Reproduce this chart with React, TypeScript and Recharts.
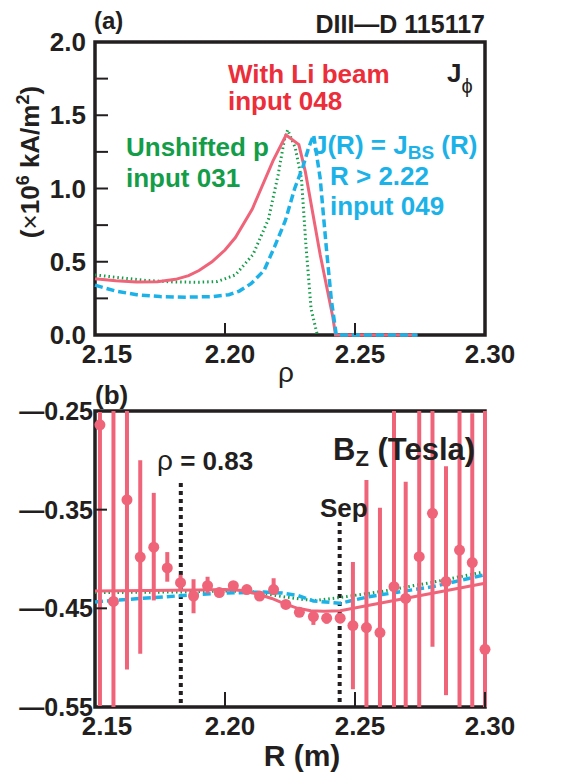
import React from 'react';
import {
  ComposedChart,
  Line,
  Scatter,
  XAxis,
  YAxis,
  ReferenceArea,
  ReferenceLine,
  ErrorBar,
} from 'recharts';

const FONT = '"Liberation Sans", Arial, Helvetica, sans-serif';
const INK = '#231f20';
const RED = '#ef6479';
const RED_TEXT = '#ec2d3a';
const GREEN = '#139d49';
const BLUE = '#1cb2e8';

// ---- panel (a): J_phi vs rho ----
const rhoTicks = [2.15, 2.2, 2.25, 2.3];
const jTicks = [0, 0.25, 0.5, 0.75, 1, 1.25, 1.5, 1.75, 2];

const liBeamRho = [2.15, 2.158, 2.166, 2.174, 2.181, 2.186, 2.19, 2.195, 2.2, 2.204, 2.2105, 2.2185, 2.2235, 2.2284, 2.2309, 2.2366, 2.2415, 2.2425, 2.274];
const liBeamJ = [0.384, 0.37, 0.362, 0.364, 0.38, 0.405, 0.44, 0.5, 0.58, 0.665, 0.86, 1.19, 1.365, 1.3, 1.115, 0.55, 0.12, 0, 0];

const unshiftedRho = [2.15, 2.16, 2.17, 2.18, 2.19, 2.197, 2.204, 2.2108, 2.2167, 2.2204, 2.2228, 2.2241, 2.227, 2.2294, 2.2311, 2.2331, 2.2355];
const unshiftedJ = [0.41, 0.39, 0.372, 0.362, 0.36, 0.365, 0.41, 0.55, 0.79, 1.09, 1.33, 1.4, 1.28, 1.07, 0.62, 0.18, 0];

const bootstrapRho = [2.15, 2.158, 2.166, 2.175, 2.185, 2.195, 2.2015, 2.2055, 2.21, 2.215, 2.219, 2.2232, 2.2268, 2.23, 2.2322, 2.2341, 2.2366, 2.239, 2.2409, 2.2428, 2.274];
const bootstrapJ = [0.34, 0.3, 0.275, 0.262, 0.258, 0.262, 0.275, 0.3, 0.35, 0.44, 0.6, 0.78, 1.0, 1.15, 1.28, 1.365, 1.07, 0.59, 0.24, 0, 0];

// ---- panel (b): Bz vs R ----
const rTicks = [2.15, 2.2, 2.25, 2.3];
const bzTicks = [-0.55, -0.45, -0.35, -0.25];

const bzR = [2.1519, 2.1571, 2.1623, 2.1674, 2.1726, 2.1778, 2.1829, 2.1879, 2.1933, 2.1978, 2.2032, 2.2084, 2.2133, 2.2187, 2.2234, 2.2286, 2.234, 2.2391, 2.2443, 2.2492, 2.2544, 2.2596, 2.265, 2.2695, 2.2747, 2.2798, 2.285, 2.2902, 2.2951, 2.3];
const bzMeas = [-0.264, -0.443, -0.34, -0.398, -0.388, -0.409, -0.424, -0.4375, -0.427, -0.434, -0.427, -0.431, -0.4375, -0.431, -0.446, -0.454, -0.4584, -0.46, -0.46, -0.4675, -0.4695, -0.4746, -0.428, -0.44, -0.3976, -0.3537, -0.4229, -0.391, -0.4036, -0.4915];
const bzHigh = [-0.25, -0.25, -0.25, -0.3, -0.333, -0.393, -0.416, -0.4205, -0.418, -0.43, -0.423, -0.427, -0.434, -0.4195, -0.442, -0.45, -0.4534, -0.4545, -0.455, -0.403, -0.32, -0.348, -0.25, -0.3216, -0.25, -0.25, -0.306, -0.25, -0.2524, -0.25];
const bzLow = [-0.55, -0.55, -0.512, -0.496, -0.442, -0.423, -0.431, -0.455, -0.4347, -0.438, -0.432, -0.435, -0.441, -0.4364, -0.45, -0.458, -0.4668, -0.4655, -0.465, -0.532, -0.55, -0.55, -0.55, -0.55, -0.55, -0.489, -0.538, -0.55, -0.55, -0.55];

const fitLiR = [2.15, 2.17, 2.19, 2.2, 2.207, 2.213, 2.218, 2.223, 2.228, 2.233, 2.238, 2.2443, 2.3];
const fitLiBz = [-0.4325, -0.432, -0.4315, -0.431, -0.432, -0.436, -0.44, -0.4455, -0.45, -0.4525, -0.453, -0.4525, -0.4246];

const fitUnshR = [2.15, 2.18, 2.2, 2.21, 2.215, 2.222, 2.23, 2.235, 2.2443, 2.26, 2.28, 2.3];
const fitUnshBz = [-0.434, -0.4335, -0.4325, -0.433, -0.435, -0.438, -0.441, -0.442, -0.439, -0.433, -0.4235, -0.4128];

const fitBsR = [2.15, 2.17, 2.19, 2.2, 2.215, 2.222, 2.228, 2.234, 2.2443, 2.2553, 2.28, 2.3];
const fitBsBz = [-0.4435, -0.4395, -0.436, -0.4345, -0.4335, -0.4345, -0.437, -0.4425, -0.4449, -0.4382, -0.428, -0.416];

// dotted markers: rho = 0.83 and separatrix
const rho083R = 2.183;
const rho083Top = -0.323;
const sepR = 2.2441;
const sepTop = -0.3625;

const zip = (xs: number[], ys: number[]) => xs.map((x, i) => ({ x, y: ys[i] }));

const liBeam = zip(liBeamRho, liBeamJ);
const unshifted = zip(unshiftedRho, unshiftedJ);
const bootstrap = zip(bootstrapRho, bootstrapJ);
const fitLi = zip(fitLiR, fitLiBz);
const fitUnsh = zip(fitUnshR, fitUnshBz);
const fitBs = zip(fitBsR, fitBsBz);
const bzPoints = bzR.map((x, i) => ({
  x,
  y: bzMeas[i],
  err: [bzMeas[i] - bzLow[i], bzHigh[i] - bzMeas[i]],
}));

const tickFont = { fontSize: 26, fontWeight: 700, fill: INK, fontFamily: FONT };

// inward tick + label; axis tickSize/tickMargin are 0 so (x, y) sits on the axis
const xTick = (len: number, gap: number) => (props: any) => {
  const { x, y, payload } = props;
  const dx = payload.value === 2.15 ? 12 : 5;
  return (
    <g>
      <line x1={x} x2={x} y1={y} y2={y - len} stroke={INK} strokeWidth={2} />
      <text x={x + dx} y={y + gap} dy="0.71em" textAnchor="middle" {...tickFont}>
        {Number(payload.value).toFixed(2)}
      </text>
    </g>
  );
};

const yTick = (len: number, gap: number, size: number, fmt: (v: number) => string) => (props: any) => {
  const { x, y, payload } = props;
  const label = fmt(payload.value);
  return (
    <g>
      <line x1={x} x2={x + len} y1={y} y2={y} stroke={INK} strokeWidth={2} />
      {label && (
        <text x={x - gap} y={y} dy="0.355em" textAnchor="end" {...tickFont} fontSize={size}>
          {label}
        </text>
      )}
    </g>
  );
};

const Dot = (p: any) => <circle cx={p.cx} cy={p.cy} r={5.5} fill={RED} />;

function PanelA() {
  return (
    <ComposedChart width={571} height={380} margin={{ top: 42, right: 86, bottom: 0, left: 0 }}>
      <XAxis
        type="number"
        dataKey="x"
        domain={[2.15, 2.3]}
        ticks={rhoTicks}
        interval={0}
        height={45}
        axisLine={false}
        tickLine={false}
        tickSize={0}
        tickMargin={0}
        tick={xTick(12, 10)}
      />
      <YAxis
        type="number"
        dataKey="y"
        domain={[0, 2]}
        ticks={jTicks}
        interval={0}
        width={95}
        axisLine={false}
        tickLine={false}
        tickSize={0}
        tickMargin={0}
        tick={yTick(13, 9, 26, (v) => (Math.round(v * 100) % 50 === 0 ? v.toFixed(1) : ''))}
      />
      <Line data={unshifted} dataKey="y" type="linear" stroke={GREEN} strokeWidth={3} strokeDasharray="1.5 3" dot={false} isAnimationActive={false} />
      <Line data={liBeam} dataKey="y" type="linear" stroke={RED} strokeWidth={3} dot={false} isAnimationActive={false} />
      <Line data={bootstrap} dataKey="y" type="linear" stroke={BLUE} strokeWidth={3.5} strokeDasharray="8 4" dot={false} isAnimationActive={false} />
      <ReferenceArea x1={2.15} x2={2.3} y1={0} y2={2} fill="none" fillOpacity={0} stroke={INK} strokeWidth={3.5} />
    </ComposedChart>
  );
}

function PanelB() {
  return (
    <ComposedChart width={571} height={396} margin={{ top: 31, right: 86, bottom: 0, left: 0 }}>
      <XAxis
        type="number"
        dataKey="x"
        domain={[2.15, 2.3]}
        ticks={rTicks}
        interval={0}
        height={69}
        axisLine={false}
        tickLine={false}
        tickSize={0}
        tickMargin={0}
        tick={xTick(15, 10)}
      />
      <YAxis
        type="number"
        dataKey="y"
        domain={[-0.55, -0.25]}
        ticks={bzTicks}
        interval={0}
        width={95}
        axisLine={false}
        tickLine={false}
        tickSize={0}
        tickMargin={0}
        tick={yTick(12, 2, 25, (v) => '\u2014' + Math.abs(v).toFixed(2))}
      />
      <ReferenceLine segment={[{ x: rho083R, y: rho083Top }, { x: rho083R, y: -0.55 }]} stroke={INK} strokeWidth={4} strokeDasharray="4 4" />
      <ReferenceLine segment={[{ x: sepR, y: sepTop }, { x: sepR, y: -0.55 }]} stroke={INK} strokeWidth={4} strokeDasharray="4 4" />
      <Line data={fitUnsh} dataKey="y" type="linear" stroke={GREEN} strokeWidth={3} strokeDasharray="1.5 3" dot={false} isAnimationActive={false} />
      <Line data={fitBs} dataKey="y" type="linear" stroke={BLUE} strokeWidth={3.5} strokeDasharray="8 4" dot={false} isAnimationActive={false} />
      <Line data={fitLi} dataKey="y" type="linear" stroke={RED} strokeWidth={3} dot={false} isAnimationActive={false} />
      <Scatter data={bzPoints} dataKey="y" fill={RED} shape={Dot} isAnimationActive={false}>
        <ErrorBar dataKey="err" direction="y" width={0} stroke={RED} strokeWidth={4} isAnimationActive={false} />
      </Scatter>
      <ReferenceArea x1={2.15} x2={2.3} y1={-0.55} y2={-0.25} fill="none" fillOpacity={0} stroke={INK} strokeWidth={3.5} />
    </ComposedChart>
  );
}

export default function App() {
  const bold = { fontFamily: FONT, fontWeight: 700 };
  return (
    <div style={{ position: 'absolute', left: 0, top: 0, width: 571, height: 776, background: '#fff' }}>
      <div style={{ position: 'absolute', left: 0, top: 0 }}>
        <PanelA />
      </div>
      <div style={{ position: 'absolute', left: 0, top: 380 }}>
        <PanelB />
      </div>
      <svg width={571} height={776} style={{ position: 'absolute', left: 0, top: 0, pointerEvents: 'none' }}>
        {/* panel (a) annotations */}
        <text x={94} y={29} fontSize={24} fill={INK} {...bold}>(a)</text>
        <text x={485} y={33} fontSize={25} fill={INK} textAnchor="end" {...bold}>DIII—D 115117</text>
        <text x={447} y={82} fontSize={26} fill={INK} {...bold}>
          J<tspan dy={11} fontSize={20} fontWeight={400}>ϕ</tspan>
        </text>
        <text x={228} y={83} fontSize={26} fill={RED_TEXT} {...bold}>With Li beam</text>
        <text x={228} y={110} fontSize={26} fill={RED_TEXT} {...bold}>input 048</text>
        <text x={126} y={156} fontSize={26} fill={GREEN} {...bold}>Unshifted p</text>
        <text x={126} y={187} fontSize={26} fill={GREEN} {...bold}>input 031</text>
        <text x={313} y={154} fontSize={26} fill={BLUE} {...bold}>
          J(R) = J<tspan dy={5} fontSize={19}>BS</tspan>
          <tspan dy={-5}> (R)</tspan>
        </text>
        <text x={330} y={185} fontSize={26} fill={BLUE} {...bold}>R &gt; 2.22</text>
        <text x={330} y={215} fontSize={26} fill={BLUE} {...bold}>input 049</text>
        <text
          transform="translate(30,162) rotate(-90)"
          textAnchor="middle"
          dy="0.35em"
          fontSize={26}
          fill={INK}
          {...bold}
        >
          (<tspan fontWeight={400}>×</tspan>10<tspan dy={-10} fontSize={18}>6</tspan>
          <tspan dy={10}> kA/m</tspan>
          <tspan dy={-10} fontSize={18}>2</tspan>
          <tspan dy={10}>)</tspan>
        </text>
        <text x={286} y={382} fontSize={28} fill={INK} textAnchor="middle" fontFamily={FONT}>ρ</text>

        {/* panel (b) annotations */}
        <text x={95} y={404} fontSize={26} fill={INK} {...bold}>(b)</text>
        <text x={333} y={460} fontSize={31} fill={INK} {...bold}>
          B<tspan dy={6} fontSize={22}>Z</tspan>
          <tspan dy={-6}> (Tesla)</tspan>
        </text>
        <text x={157} y={470} fontSize={26} fill={INK} {...bold}>
          <tspan fontWeight={400} fontSize={28}>ρ</tspan> = 0.83
        </text>
        <text x={320} y={517} fontSize={26} fill={INK} {...bold}>Sep</text>
        <text x={302} y={766} fontSize={30} fill={INK} textAnchor="middle" {...bold}>R (m)</text>
      </svg>
    </div>
  );
}
